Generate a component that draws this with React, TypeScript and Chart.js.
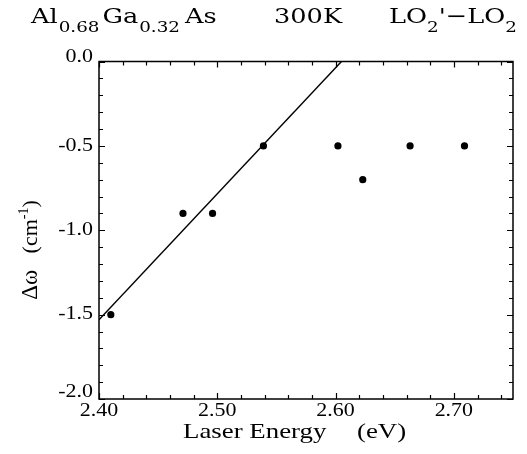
import React, { useEffect, useRef } from "react";
import { Chart, registerables } from "chart.js";

Chart.register(...registerables);

// Measured data points (laser energy in eV, frequency shift in cm^-1)
const energies = [2.41, 2.471, 2.496, 2.539, 2.602, 2.623, 2.663, 2.709];
const shifts = [-1.5, -0.9, -0.9, -0.5, -0.5, -0.7, -0.5, -0.5];

// Straight-line fit endpoints
const fitEnergies = [2.4, 2.605];
const fitShifts = [-1.53, 0.0];

// Tick labels
const xTickLabels = ["2.40", "2.50", "2.60", "2.70"];
const yTickLabels = ["0.0", "-0.5", "-1.0", "-1.5", "-2.0"];

const X_MIN = 2.4;
const X_MAX = 2.75;
const Y_MIN = -2.0;
const Y_MAX = 0.0;

const SX = 1.22; // horizontal stretch of the scanned lettering

function drawText(
  ctx: CanvasRenderingContext2D,
  text: string,
  x: number,
  y: number,
  font: string,
  align: CanvasTextAlign = "left",
  baseline: CanvasTextBaseline = "alphabetic",
  sx: number = SX
): number {
  ctx.save();
  ctx.font = font;
  ctx.textAlign = align;
  ctx.textBaseline = baseline;
  ctx.fillStyle = "#000";
  ctx.translate(x, y);
  ctx.scale(sx, 1);
  ctx.fillText(text, 0, 0);
  const w = ctx.measureText(text).width * sx;
  ctx.restore();
  return w;
}

const decorPlugin = {
  id: "decor",
  afterDraw(chart: any) {
    const ctx: CanvasRenderingContext2D = chart.ctx;
    const { left, right, top, bottom } = chart.chartArea;
    const xs = chart.scales.x;
    const ys = chart.scales.y;

    ctx.save();
    ctx.strokeStyle = "#000";
    ctx.lineWidth = 1.5;
    ctx.strokeRect(left, top, right - left, bottom - top);

    // x ticks (minor every 0.02, major every 0.1)
    ctx.lineWidth = 1.2;
    for (let i = 0; i <= 17; i++) {
      const v = X_MIN + i * 0.02;
      const px = Math.round(xs.getPixelForValue(v)) + 0.5;
      const len = i % 5 === 0 ? 6 : 4;
      ctx.beginPath();
      ctx.moveTo(px, bottom);
      ctx.lineTo(px, bottom - len);
      ctx.moveTo(px, top);
      ctx.lineTo(px, top + len);
      ctx.stroke();
    }
    // y ticks (minor every 0.1, major every 0.5)
    for (let i = 0; i <= 20; i++) {
      const v = Y_MAX - i * 0.1;
      const py = Math.round(ys.getPixelForValue(v)) + 0.5;
      const len = i % 5 === 0 ? 6 : 4;
      ctx.beginPath();
      ctx.moveTo(left, py);
      ctx.lineTo(left + len, py);
      ctx.moveTo(right, py);
      ctx.lineTo(right - len, py);
      ctx.stroke();
    }
    ctx.restore();

    const tickFont = "18px 'Liberation Serif'";
    xTickLabels.forEach((l) => {
      const px = xs.getPixelForValue(parseFloat(l));
      drawText(ctx, l, px, 416, tickFont, "center");
    });
    yTickLabels.forEach((l, i) => {
      const py = ys.getPixelForValue(parseFloat(l));
      let off = 0;
      if (i === 0) off = -4;
      if (i === yTickLabels.length - 1) off = -7;
      drawText(ctx, l, 93, py + off, tickFont, "right", "middle");
    });

    // Axis titles
    const axFont = "22px 'Liberation Serif'";
    drawText(ctx, "Laser Energy", 183, 438, axFont);
    drawText(ctx, "(eV)", 357, 438, axFont);

    // Y title rotated
    ctx.save();
    ctx.translate(37, 250);
    ctx.rotate(-Math.PI / 2);
    ctx.fillStyle = "#000";
    ctx.textBaseline = "alphabetic";
    ctx.textAlign = "left";
    const parts: [string, string, number][] = [
      ["Δω", "23px 'Liberation Serif'", 0],
      ["   ", "22px 'Liberation Serif'", 0],
      ["(cm", "22px 'Liberation Serif'", 0],
      ["-1", "14px 'Liberation Serif'", -9],
      [")", "22px 'Liberation Serif'", 0],
    ];
    let total = 0;
    parts.forEach(([t, f]) => {
      ctx.font = f;
      total += ctx.measureText(t).width;
    });
    let cx = -total / 2;
    parts.forEach(([t, f, dy]) => {
      ctx.font = f;
      ctx.fillText(t, cx, dy);
      cx += ctx.measureText(t).width;
    });
    ctx.restore();

    // Title
    const big = "21px 'DejaVu Serif'";
    const small = "15px 'DejaVu Serif'";
    const base = 23;
    const subBase = 32;
    let x = 31;
    x += drawText(ctx, "Al", x, base, big);
    x += 1;
    x += drawText(ctx, "0.68", x, subBase, small);
    x += 3;
    x += drawText(ctx, "Ga", x, base, big);
    x += 1;
    x += drawText(ctx, "0.32", x, subBase, small);
    x += 5;
    drawText(ctx, "As", x, base, big);

    drawText(ctx, "300K", 274, base, big);

    x = 389;
    x += drawText(ctx, "LO", x, base, big);
    x += drawText(ctx, "2", x, subBase, small);
    x += drawText(ctx, "'−", x, base, big);
    x += drawText(ctx, "LO", x, base, big);
    drawText(ctx, "2", x, subBase, small);
  },
};

export default function App() {
  const ref = useRef<HTMLCanvasElement | null>(null);

  useEffect(() => {
    if (!ref.current) return;
    const points = energies.map((e, i) => ({ x: e, y: shifts[i] }));
    const fit = fitEnergies.map((e, i) => ({ x: e, y: fitShifts[i] }));
    const chart = new Chart(ref.current, {
      type: "scatter",
      data: {
        datasets: [
          {
            type: "line",
            data: fit,
            borderColor: "#000",
            borderWidth: 1.4,
            pointRadius: 0,
            fill: false,
          } as any,
          {
            data: points,
            pointRadius: 3.6,
            pointBackgroundColor: "#000",
            pointBorderColor: "#000",
            pointBorderWidth: 0,
            showLine: false,
          },
        ],
      },
      options: {
        animation: false,
        responsive: false,
        devicePixelRatio: 1,
        layout: { padding: { top: 61.5, right: 14, left: 0, bottom: 0 } },
        plugins: {
          legend: { display: false },
          tooltip: { enabled: false },
          title: { display: false },
        },
        scales: {
          x: {
            type: "linear",
            min: X_MIN,
            max: X_MAX,
            grid: { display: false },
            border: { display: false },
            ticks: { display: false },
            afterFit: (s: any) => {
              s.height = 55;
            },
          },
          y: {
            type: "linear",
            min: Y_MIN,
            max: Y_MAX,
            grid: { display: false },
            border: { display: false },
            ticks: { display: false },
            afterFit: (s: any) => {
              s.width = 99;
            },
          },
        },
      },
      plugins: [decorPlugin],
    });
    return () => chart.destroy();
  }, []);

  return (
    <div style={{ position: "absolute", left: 0, top: 0, width: 527, height: 454, background: "#fff" }}>
      <canvas ref={ref} width={527} height={454} style={{ width: 527, height: 454 }} />
    </div>
  );
}
